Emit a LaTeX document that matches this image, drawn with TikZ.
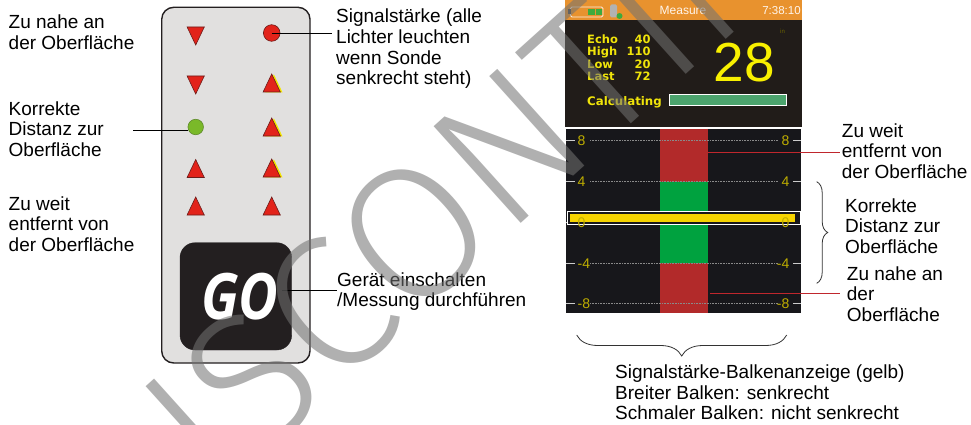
\documentclass[tikz,border=0pt]{standalone}
\usepackage{fontspec}
\setmainfont{Liberation Sans}
\newfontfamily\gofont[FakeStretch=0.85]{Open Sans}
\newfontfamily\statfont{DejaVu Sans}
\IfFontExistsTF{Fira Sans Light}{\newfontfamily\wmfont{Fira Sans Light}}{%
  \IfFontExistsTF{FiraSans-Light.otf}{\newfontfamily\wmfont{FiraSans-Light.otf}}{\newfontfamily\wmfont{Liberation Sans}}}
\usetikzlibrary{decorations.pathreplacing}
\definecolor{panelfill}{HTML}{E1E0DF}
\definecolor{panelline}{HTML}{231F20}
\definecolor{indred}{HTML}{E2231A}
\definecolor{indline}{HTML}{6B1D1A}
\definecolor{indyel}{HTML}{F2E600}
\definecolor{indgreen}{HTML}{7AB929}
\definecolor{indgline}{HTML}{5E8A2A}
\definecolor{gobox}{HTML}{231F20}
\definecolor{scrorange}{HTML}{E8922E}
\definecolor{scrblack}{HTML}{211C19}
\definecolor{scrtext}{HTML}{F0E40A}
\definecolor{bigyel}{HTML}{F8F000}
\definecolor{graphbg}{HTML}{17171B}
\definecolor{colred}{HTML}{B22A2A}
\definecolor{colgreen}{HTML}{00A23F}
\definecolor{baryel}{HTML}{F5D300}
\definecolor{gridlbl}{HTML}{BFAE00}
\definecolor{gridline}{HTML}{8A8A8A}
\definecolor{progress}{HTML}{4CA46E}
\definecolor{leadred}{HTML}{C0272D}
\definecolor{wmark}{HTML}{727272}
\definecolor{batgreen}{HTML}{3DAA3D}
\definecolor{unitdim}{HTML}{6B6300}
\newcommand\myIndUp[2]{\filldraw[ind] ({#1-8.6},{#2+9}) -- ({#1+8.6},{#2+9}) -- ({#1},{#2-9}) -- cycle;}
\newcommand\myIndDown[2]{\filldraw[ind] ({#1-8.6},{#2-9}) -- ({#1+8.6},{#2-9}) -- ({#1},{#2+9}) -- cycle;}
\newcommand\myIndUpY[2]{\fill[indyel] ({#1-6.4},{#2+9.4}) -- ({#1+10.8},{#2+9.4}) -- ({#1+2.2},{#2-8.6}) -- cycle; \myIndUp{#1}{#2}}
\begin{document}
\begin{tikzpicture}[x=1pt,y=-1pt,
  lbl/.style={font=\fontsize{19}{20.7}\selectfont, align=left, inner sep=0pt, anchor=base west},
  conn/.style={draw=black, line width=0.9pt},
  leadr/.style={draw=leadred, line width=1pt},
  ind/.style={fill=indred, draw=indline, line width=0.6pt},
  stat/.style={font=\statfont\bfseries\fontsize{11.5}{12}\selectfont, text=scrtext, inner sep=0pt},
  glbl/.style={font=\fontsize{14}{14}\selectfont, text=gridlbl, inner sep=0pt},
  tick/.style={draw=white!80!black, line width=1.2pt},
  grid/.style={draw=gridline, line width=1.2pt, dash pattern=on 0.8pt off 0.8pt},
  brc/.style={draw=black!80, line width=0.8pt, decorate},
]
\useasboundingbox (0,0) rectangle (971,425);

% ---------- left labels (anchor = baseline of last line) ----------
\node[lbl] (tnear) at (8.5,49.7) {Zu nahe an\\der Oberfläche};
\node[lbl] (tcorr) at (8.5,156.4) {Korrekte\\Distanz zur\\Oberfläche};
\node[lbl] (tfar) at (8.5,251.4) {Zu weit\\entfernt von\\der Oberfläche};

% ---------- device ----------
\filldraw[fill=panelfill, draw=panelline, line width=1.4pt, rounded corners=12pt] (161.7,7.3) rectangle (310,363);
\myIndDown{195.7}{36}
\myIndDown{195.7}{85}
\myIndUp{195.7}{168.5}
\myIndUp{195.7}{206}
\myIndUpY{271.7}{83}
\myIndUpY{271.7}{127}
\myIndUpY{271.7}{168}
\myIndUp{271.7}{206}
\node[circle, fill=indred, draw=indline, line width=0.6pt, minimum size=16.6pt, inner sep=0pt] (sig) at (271.7,33) {};
\node[circle, fill=indgreen, draw=indgline, line width=0.6pt, minimum size=15.5pt, inner sep=0pt] (okled) at (195.7,127) {};
\filldraw[fill=gobox, draw=gobox, rounded corners=15pt] (180,242.7) rectangle (291.7,350);
\node[font=\gofont\bfseries\itshape\fontsize{64}{64}\selectfont, text=white, inner sep=0pt] (go) at (240,296.5) {GO};

% ---------- device labels + connectors ----------
\node[lbl] (tsig) at (336,84.8) {Signalstärke (alle\\Lichter leuchten\\wenn Sonde\\senkrecht steht)};
\node[lbl] (tgo) at (337,306.7) {Gerät einschalten\\/Messung durchführen};
\coordinate (sigend) at (332,33);
\coordinate (okstart) at (133,130);
\coordinate (okend) at (188,130);
\coordinate (gostart) at (282,290);
\coordinate (goend) at (337,290);
\draw[conn] (sig.center) -- (sigend);
\draw[conn] (okstart) -- (okend);
\draw[conn] (gostart) -- (goend);

% ---------- screen top ----------
\fill[scrorange] (565,0) rectangle (801.7,20);
\fill[scrblack] (565,20) rectangle (801.7,127.3);
\draw[draw=white!85!scrorange, line width=0.8pt, rounded corners=1.5pt] (570.5,7) rectangle (603,17);
\fill[black!70] (567.5,9.5) rectangle (570.5,14.5);
\fill[batgreen] (588,9.2) rectangle (594.5,14.8);
\fill[batgreen] (595.5,9.2) rectangle (601.5,14.8);
\fill[gray!60!white, rounded corners=1.5pt] (610,4.5) rectangle (617,17.5);
\fill[batgreen] (619.5,16) circle (3);
\node[font=\fontsize{12}{12}\selectfont, text=white!92!orange, inner sep=0pt, anchor=base] (mtitle) at (683,15) {Measure};
\node[font=\fontsize{11.5}{12}\selectfont, text=white!92!orange, inner sep=0pt, anchor=base] (clock) at (781.5,15) {7:38:10};

\node[stat, anchor=base west] (echo) at (587,43.3) {Echo};
\node[stat, anchor=base east] (echov) at (650.7,43.3) {40};
\node[stat, anchor=base west] (high) at (587,56) {High};
\node[stat, anchor=base east] (highv) at (650.7,56) {110};
\node[stat, anchor=base west] (low) at (587,68.5) {Low};
\node[stat, anchor=base east] (lowv) at (650.7,68.5) {20};
\node[stat, anchor=base west] (last) at (587,81) {Last};
\node[stat, anchor=base east] (lastv) at (650.7,81) {72};
\node[font=\fontsize{55}{55}\selectfont, text=bigyel, inner sep=0pt, anchor=base] (depth) at (744,81.7) {28};
\node[font=\fontsize{6}{6}\selectfont, text=unitdim, inner sep=0pt, anchor=base] (unit) at (782.5,34) {in};
\node[stat, anchor=base west, font=\statfont\bfseries\fontsize{11.8}{12}\selectfont] (calc) at (587,106) {Calculating};
\filldraw[fill=progress, draw=white, line width=0.8pt] (669.3,94.3) rectangle (786.7,105);

% ---------- graph ----------
\filldraw[fill=graphbg, draw=white, line width=0.6pt] (565.5,128.5) rectangle (801.5,313);
\fill[colred] (660,128.8) rectangle (707.7,312.7);
\fill[colgreen] (660,181.7) rectangle (707.7,263.3);
\foreach \yy in {140.7, 181.7, 222.3, 263.3, 303.7} {
  \draw[grid] (590,\yy) -- (778,\yy);
  \draw[tick] (565.8,\yy) -- (575,\yy);
  \draw[tick] (793,\yy) -- (801.2,\yy);
}
\fill[graphbg] (567.3,211.7) rectangle (800,224);
\fill[baryel] (570,214) rectangle (795,222);
\draw[draw=white, line width=0.7pt] (567.3,211.7) rectangle (800,224);
\foreach \yy/\lab in {140.7/8, 181.7/4, 222.3/0, 263.3/-4, 303.7/-8} {
  \node[glbl, anchor=west] at (577.5,\yy) {\lab};
  \node[glbl, anchor=east] at (789.5,\yy) {\lab};
}

% ---------- right labels ----------
\node[lbl] (rfar) at (841.7,178.4) {Zu weit\\entfernt von\\der Oberfläche};
\node[lbl] (rcorr) at (845,253.4) {Korrekte\\Distanz zur\\Oberfläche};
\node[lbl] (rnear) at (846.7,321.4) {Zu nahe an\\der\\Oberfläche};
\coordinate (farA) at (707.7,152.5);
\coordinate (farB) at (840,152.5);
\coordinate (nearA) at (710,293.3);
\coordinate (nearB) at (840,293.3);
\draw[leadr] (farA) -- (farB);
\draw[leadr] (nearA) -- (nearB);
\coordinate (brA) at (816.7,181.7);
\coordinate (brB) at (816.7,283.3);
\draw[brc, decoration={brace, amplitude=11pt}] (brA) -- (brB);

% ---------- bottom ----------
\coordinate (bbA) at (786.7,335);
\coordinate (bbB) at (576.7,335);
\draw[brc, decoration={brace, amplitude=21pt}] (bbA) -- (bbB);
\node[lbl] (tbar) at (615,419.7) {Signalstärke-Balkenanzeige (gelb)\\Breiter Balken: senkrecht\\Schmaler Balken: nicht senkrecht};

% ---------- watermark ----------
\node[rotate=42, font=\wmfont\fontsize{190}{190}\selectfont, text=wmark, fill opacity=0.56, text opacity=0.56, inner sep=0pt] (wm) at (550,110) {DISCONTINUED};
\end{tikzpicture}
\end{document}
